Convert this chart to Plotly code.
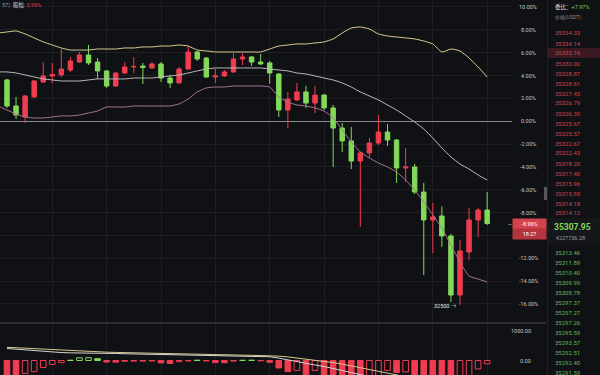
import plotly.graph_objects as go

W, H = 600, 375
BG = "#101114"
RED = "#f03c50"
GREEN = "#82d95a"
GRID = "#1d1f24"
FONT = "Roboto, Noto Sans CJK SC, sans-serif"

# ---- candle data (percent change) ----
idx = list(range(54))
open_ = [3.61, 1.33, 0.37, 2.12, 3.43, 3.96, 4.05, 4.48, 5.18, 5.80,
         5.18, 4.40, 3.08, 4.22, 4.75, 4.83, 4.66, 5.01, 3.78, 3.35,
         4.57, 6.06, 5.53, 3.87, 3.96, 4.31, 5.45, 5.62, 5.18, 5.10,
         4.13, 0.98, 1.86, 2.56, 1.59, 2.29, 1.16, -0.60, -1.73, -3.49,
         -2.78, -1.91, -0.95, -1.65, -4.10, -4.01, -6.20, -8.65, -8.30, -10.05,
         -15.22, -11.45, -8.65, -7.78]
high = [3.70, 2.12, 2.30, 3.61, 5.18, 5.09, 6.32, 5.62, 6.06, 6.67,
        5.53, 4.48, 4.31, 5.18, 5.62, 5.10, 5.18, 5.18, 4.05, 4.75,
        6.58, 6.15, 5.62, 4.57, 4.48, 5.97, 5.97, 5.71, 5.88, 5.27,
        4.22, 2.56, 3.35, 3.09, 3.09, 2.38, 1.42, -0.16, -0.51, -2.70,
        -1.47, 0.54, -0.25, -1.56, -2.35, -3.75, -5.41, -7.16, -7.46, -9.87,
        -10.40, -7.60, -7.60, -6.20]
low = [1.16, 0.19, -0.16, 2.05, 3.35, 3.35, 3.87, 4.31, 5.10, 4.92,
       3.70, 2.91, 3.00, 4.13, 4.22, 3.26, 4.57, 3.43, 2.91, 3.26,
       4.48, 5.27, 3.78, 3.35, 3.87, 4.22, 4.92, 4.83, 4.92, 3.26,
       0.37, -0.60, 1.77, 1.16, 0.72, 0.98, -4.01, -2.70, -4.19, -9.26,
       -3.22, -2.08, -2.17, -5.41, -5.32, -6.37, -13.47, -11.54, -11.01, -15.83,
       -16.09, -12.15, -10.14, -9.09]
close = [1.33, 0.54, 2.21, 3.52, 3.96, 4.09, 4.57, 5.27, 5.80, 5.10,
         4.40, 3.08, 4.22, 4.75, 4.79, 4.70, 5.01, 3.78, 3.35, 4.57,
         6.06, 5.45, 3.87, 3.96, 4.31, 5.45, 5.62, 5.18, 5.01, 4.22,
         0.98, 1.94, 2.56, 1.59, 2.29, 1.16, -0.60, -1.73, -3.49, -2.78,
         -1.91, -0.95, -1.65, -4.10, -4.01, -6.20, -8.65, -8.39, -10.05, -15.22,
         -11.37, -8.65, -7.78, -8.96]

# ---- Bollinger bands ----
band_x = list(range(-1, 54))
upper = [7.72, 7.81, 7.90, 7.64, 7.29, 6.94, 6.67, 6.41, 6.23, 6.23,
         6.23, 6.32, 6.32, 6.32, 6.41, 6.41, 6.50, 6.50, 6.58, 6.58,
         6.67, 6.58, 6.23, 6.15, 6.06, 6.06, 6.06, 6.06, 6.06, 6.06,
         6.32, 6.58, 6.67, 6.76, 6.76, 6.85, 6.94, 7.20, 7.72, 8.16,
         8.25, 8.07, 7.64, 7.46, 7.37, 7.29, 7.20, 7.02, 6.76, 6.06,
         6.32, 6.15, 5.53, 4.75, 3.87]
middle = [4.31, 4.31, 4.22, 4.05, 3.87, 3.70, 3.61, 3.52, 3.52, 3.52,
          3.61, 3.70, 3.70, 3.70, 3.70, 3.78, 3.78, 3.78, 3.87, 3.96,
          4.05, 4.22, 4.40, 4.57, 4.66, 4.66, 4.66, 4.66, 4.66, 4.66,
          4.57, 4.48, 4.40, 4.22, 4.13, 3.96, 3.78, 3.61, 3.35, 2.99,
          2.56, 2.21, 1.86, 1.42, 0.98, 0.46, -0.07, -0.68, -1.47, -2.35,
          -3.13, -3.75, -4.19, -4.71, -5.15]
lower = [1.33, 0.98, 0.63, 0.37, 0.28, 0.28, 0.37, 0.46, 0.46, 0.54,
         0.72, 0.89, 1.24, 1.24, 1.24, 1.33, 1.33, 1.33, 1.33, 1.33,
         1.51, 1.94, 2.56, 2.91, 2.99, 2.99, 3.08, 3.08, 3.08, 3.08,
         2.99, 2.12, 1.68, 1.42, 1.33, 1.16, 0.89, 0.28, -0.77, -1.82,
         -2.70, -3.22, -3.66, -4.01, -4.45, -5.15, -6.02, -7.08, -8.21, -9.35,
         -10.85, -12.33, -13.56, -13.82, -14.08]

# ---- MACD panel ----
hist = [-500, -530, -430, -370, -230, -130, -70, 10, 90, 95,
        60, -50, -55, -25, -20, -20, -15, -80, -100, -40,
        -15, 10, -15, -70, -75, -20, 10, 12, -10, -60,
        -250, -370, -330, -550, -330, -600, -700, -800, -900, -1000,
        -950, -700, -330, -400, -380, -600, -800, -1000, -1200, -1400,
        -1300, -900, -280, -110]
dif = [400, 375, 350, 325, 300, 280, 265, 255, 255, 258,
       255, 245, 235, 225, 220, 215, 210, 200, 190, 182,
       178, 175, 170, 160, 150, 145, 142, 140, 135, 125,
       80, 20, -50, -110, -150, -200, -260, -330, -400, -470,
       -540, -600, -640, -690, -740, -800, -900, -1000, -1100, -1250,
       -1350, -1400, -1400, -1380]
dea = [440, 425, 410, 390, 370, 350, 330, 315, 300, 290,
       285, 278, 270, 262, 255, 248, 242, 235, 228, 220,
       213, 207, 200, 195, 188, 182, 177, 172, 167, 160,
       145, 120, 85, 50, 15, -25, -70, -120, -175, -235,
       -300, -360, -410, -460, -510, -560, -630, -700, -780, -870,
       -960, -1040, -1110, -1160]

pct_ticks = [10, 8, 6, 4, 2, 0, -2, -4, -6, -8, -12, -14, -16]
macd_ticks = [1000, 0]
low_label = "32500"
amp_text = "3.99%"
clock_text = "18:27"

asks = ["35334.33", "35334.14", "35333.16", "35330.02", "35328.87", "35328.61",
        "35327.45", "35326.79", "35326.39", "35325.67", "35325.57", "35322.67",
        "35322.43", "35318.20", "35317.40", "35315.96", "35315.95", "35314.18",
        "35314.12"]
bids = ["35313.46", "35311.89", "35310.40", "35309.99", "35308.78", "35297.37",
        "35297.27", "35297.26", "35295.59", "35293.57", "35292.51", "35292.40",
        "35291.59"]
last_price = "35307.95"
last_cny = "¥227736.28"
ratio_text = "+7.97%"

# ---------------------------------------------------------------
def px(x):
    return x / W

def py(y):
    return 1 - y / H

fig = go.Figure()

fig.add_trace(go.Scatter(x=band_x, y=upper, mode="lines", line=dict(color="#dccf92", width=1, shape="spline", smoothing=0.5),
                         hoverinfo="skip", xaxis="x", yaxis="y"))
fig.add_trace(go.Scatter(x=band_x, y=middle, mode="lines", line=dict(color="#bdbdbd", width=1, shape="spline", smoothing=0.5),
                         hoverinfo="skip", xaxis="x", yaxis="y"))
fig.add_trace(go.Scatter(x=band_x, y=lower, mode="lines", line=dict(color="#a87495", width=1, shape="spline", smoothing=0.5),
                         hoverinfo="skip", xaxis="x", yaxis="y"))

fig.add_trace(go.Candlestick(
    x=idx, open=open_, high=high, low=low, close=close,
    increasing=dict(line=dict(color=RED, width=1), fillcolor=RED),
    decreasing=dict(line=dict(color=GREEN, width=1), fillcolor=GREEN),
    whiskerwidth=0, hoverinfo="skip", xaxis="x", yaxis="y"))

# MACD histogram: red below zero, green above; filled when falling, hollow when rising
fill_cols, line_cols = [], []
for i, v in enumerate(hist):
    col = RED if v < 0 else GREEN
    prev = hist[i - 1] if i > 0 else v + 1
    line_cols.append(col)
    fill_cols.append(col if v < prev else BG)
fig.add_trace(go.Bar(x=idx, y=hist, marker=dict(color=fill_cols, line=dict(color=line_cols, width=1)),
                     width=0.62, hoverinfo="skip", xaxis="x2", yaxis="y2"))
fig.add_trace(go.Scatter(x=idx, y=dea, mode="lines", line=dict(color="#d8c98a", width=1),
                         hoverinfo="skip", xaxis="x2", yaxis="y2"))
fig.add_trace(go.Scatter(x=idx, y=dif, mode="lines", line=dict(color="#d6d6d6", width=1),
                         hoverinfo="skip", xaxis="x2", yaxis="y2"))

split = 52 / H
xr = [-0.77, 55.74]
xdom = [0, 512 / W]
fig.update_layout(
    width=W, height=H, margin=dict(l=0, r=0, t=0, b=0),
    paper_bgcolor=BG, plot_bgcolor=BG, showlegend=False,
    font=dict(family=FONT, color="#c8c8c8", size=6),
    xaxis=dict(domain=xdom, range=xr, showticklabels=False, showgrid=True, gridcolor=GRID, gridwidth=1,
               tick0=5, dtick=6, zeroline=False, rangeslider=dict(visible=False), fixedrange=True),
    yaxis=dict(domain=[split, 1], range=[-17.67, 10.61], showticklabels=False, showgrid=True, gridcolor=GRID,
               tick0=0, dtick=2, zeroline=True, zerolinecolor="#8a8a8a", zerolinewidth=1, fixedrange=True),
    xaxis2=dict(domain=xdom, range=xr, anchor="y2", matches="x", showticklabels=False, showgrid=True,
                gridcolor=GRID, tick0=5, dtick=6, zeroline=False, fixedrange=True),
    yaxis2=dict(domain=[0, split], range=[-483, 1250], anchor="x2", showticklabels=False, showgrid=False,
                zeroline=False, fixedrange=True),
    bargap=0.3,
)

shapes = [
    dict(type="line", xref="paper", yref="paper", x0=0, x1=px(546), y0=split, y1=split,
         line=dict(color="#4a4c51", width=1)),
    dict(type="line", xref="paper", yref="paper", x0=px(547.5), x1=px(547.5), y0=0, y1=1,
         line=dict(color="#1e2024", width=1)),
    dict(type="rect", xref="paper", yref="paper", x0=px(548), x1=1, y0=py(58), y1=py(48),
         fillcolor="#3a1a20", line=dict(width=0), layer="below"),
    dict(type="rect", xref="paper", yref="paper", x0=px(548), x1=1, y0=py(245), y1=py(218),
         fillcolor="#15171b", line=dict(width=0), layer="below"),
    dict(type="rect", xref="paper", yref="paper", x0=px(544), x1=px(547), y0=py(200), y1=py(187),
         fillcolor="#55575c", line=dict(width=0)),
]

ann = []
# percent axis labels
for t in pct_ticks:
    ann.append(dict(x=px(528), xref="paper", y=t, yref="y", text=f"{t:.2f}%", showarrow=False,
                    xanchor="center", yanchor="middle", font=dict(size=5.5, color="#c8c8c8")))
for t in macd_ticks:
    ann.append(dict(x=px(533), xref="paper", y=t, yref="y2", text=f"{t:.2f}", showarrow=False,
                    xanchor="right", yanchor="middle", font=dict(size=5.5, color="#c8c8c8")))

# current change box and timer
ann.append(dict(x=px(529), xref="paper", y=close[-1], yref="y", text=f"{close[-1]:.2f}%", showarrow=False,
                xanchor="center", yanchor="middle", bgcolor="#d2434e", width=31, height=8, borderpad=1,
                font=dict(size=5.5, color="#ffffff")))
ann.append(dict(x=px(529), xref="paper", y=close[-1], yref="y", yshift=-10.5, text=clock_text, showarrow=False,
                xanchor="center", yanchor="middle", bgcolor="#b3343e", width=31, height=8, borderpad=1,
                font=dict(size=5.5, color="#ffffff")))
ann.append(dict(x=px(510), xref="paper", y=close[-1], yref="y", text="—", showarrow=False,
                xanchor="center", yanchor="middle", font=dict(size=5, color="#e0e0e0")))

# lowest price marker
low_i = low.index(min(low))
ann.append(dict(x=low_i, xref="x", y=low[low_i], yref="y", text=f"{low_label} →", showarrow=False,
                xanchor="right", yanchor="middle", xshift=-1, yshift=-1, font=dict(size=5.5, color="#e8e8e8")))

# top-left indicator text
ann.append(dict(x=0, xref="paper", y=py(5), yref="paper", xanchor="left", yanchor="middle", showarrow=False,
                text=f"57)  <span style='color:#d8d8d8'>振幅</span>: <span style='color:{RED}'>{amp_text}</span>",
                font=dict(size=5.5, color="#9a9a9a")))

# order book header
ann.append(dict(x=px(553), xref="paper", y=py(7), yref="paper", xanchor="left", yanchor="middle", showarrow=False,
                text=f"<span style='color:#e0e0e0'>委比</span>：<span style='color:{GREEN}'>{ratio_text}</span>",
                font=dict(size=5.5, color="#e0e0e0")))
ann.append(dict(x=px(553), xref="paper", y=py(17), yref="paper", xanchor="left", yanchor="middle", showarrow=False,
                text="价格(USDT)", font=dict(size=5, color="#8a8a8a")))
for k, p in enumerate(asks):
    ann.append(dict(x=px(553), xref="paper", y=py(33 + 10 * k), yref="paper", xanchor="left", yanchor="middle",
                    showarrow=False, text=p, font=dict(size=6, color="#cf4650")))
ann.append(dict(x=px(552), xref="paper", y=py(227), yref="paper", xanchor="left", yanchor="middle", showarrow=False,
                text=f"<b>{last_price}</b>", font=dict(size=8.5, color=GREEN)))
ann.append(dict(x=px(554), xref="paper", y=py(238), yref="paper", xanchor="left", yanchor="middle", showarrow=False,
                text=last_cny, font=dict(size=5.5, color="#9a9a9a")))
for k, p in enumerate(bids):
    ann.append(dict(x=px(553), xref="paper", y=py(252 + 10 * k), yref="paper", xanchor="left", yanchor="middle",
                    showarrow=False, text=p, font=dict(size=6, color="#5fb85a")))

fig.update_layout(shapes=shapes, annotations=ann)
fig.write_html("out.html", config={"displayModeBar": False},
               post_script="document.body.style.margin='0';document.body.style.overflow='hidden';")
